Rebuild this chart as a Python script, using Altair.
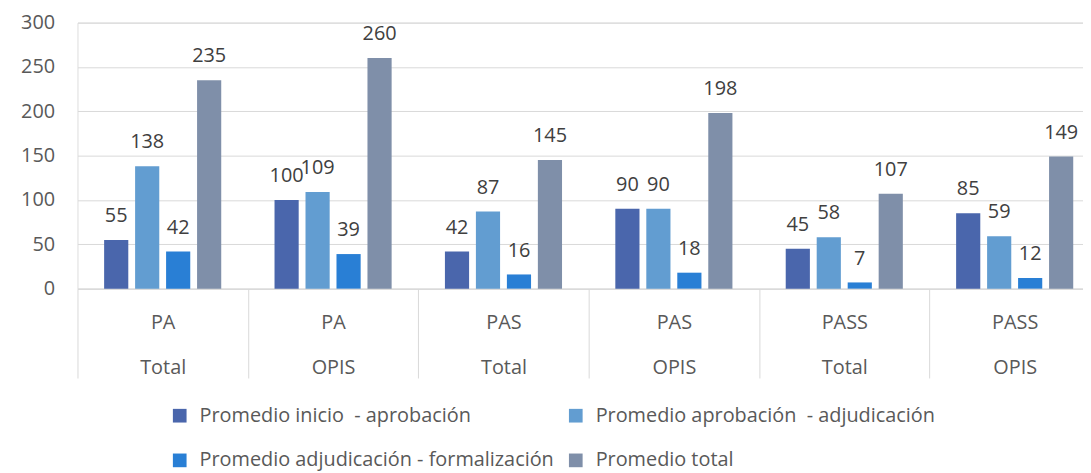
import altair as alt
import pandas as pd

groups = ["PA|Total", "PA|OPIS", "PAS|Total", "PAS|OPIS", "PASS|Total", "PASS|OPIS"]
series = [
    "Promedio inicio\u00a0 - aprobación",
    "Promedio aprobación\u00a0 - adjudicación",
    "Promedio adjudicación - formalización",
    "Promedio total",
]
inicio = [55, 100, 42, 90, 45, 85]
aprobacion = [138, 109, 87, 90, 58, 59]
adjudicacion = [42, 39, 16, 18, 7, 12]
total = [235, 260, 145, 198, 107, 149]
colors = ["#4A66AC", "#629DD1", "#297FD5", "#7F8FA9"]
y_ticks = [0, 50, 100, 150, 200, 250, 300]

rows = []
for vals, s in zip([inicio, aprobacion, adjudicacion, total], series):
    for g, v in zip(groups, vals):
        rows.append({"grupo": g, "serie": s, "valor": v})
df = pd.DataFrame(rows)

FONT = "Open Sans"
FS = 20

x_enc = alt.X(
    "grupo:N",
    sort=groups,
    title=None,
    scale=alt.Scale(range=[0, 1030], paddingInner=0, paddingOuter=0),
    axis=alt.Axis(
        labelExpr="split(datum.label, '|')",
        labelAngle=0,
        labelFontSize=FS,
        labelFont=FONT,
        labelColor="#595959",
        labelLineHeight=45,
        labelPadding=-66,
        labelBaseline="top",
        tickBand="extent",
        tickSize=90,
        tickColor="#D9D9D9",
        tickWidth=1,
        domainColor="#D9D9D9",
        domainWidth=1,
        grid=False,
    ),
)
xoff = alt.XOffset(
    "serie:N",
    sort=series,
    scale=alt.Scale(paddingInner=0.22, paddingOuter=0.86),
)

base = alt.Chart(df)

bars = base.mark_bar().encode(
    x=x_enc,
    xOffset=xoff,
    y=alt.Y(
        "valor:Q",
        title=None,
        scale=alt.Scale(domain=[0, 300], nice=False),
        axis=alt.Axis(
            values=y_ticks,
            domain=False,
            ticks=False,
            labelFontSize=FS,
            labelFont=FONT,
            labelColor="#595959",
            labelPadding=23,
            gridColor="#D9D9D9",
            gridWidth=1,
        ),
    ),
    color=alt.Color(
        "serie:N",
        sort=series,
        scale=alt.Scale(domain=series, range=colors),
        legend=alt.Legend(
            title=None,
            orient="none",
            direction="horizontal",
            legendX=93,
            legendY=386,
            columns=2,
            symbolType="square",
            symbolSize=190,
            symbolStrokeWidth=0,
            labelFontSize=FS,
            labelFont=FONT,
            labelColor="#595959",
            labelLimit=0,
            rowPadding=25,
            columnPadding=12,
            labelOffset=10,
        ),
    ),
)

labels = base.mark_text(
    baseline="middle", dy=-24, fontSize=FS, font=FONT, color="#404040"
).encode(
    x=alt.X("grupo:N", sort=groups),
    xOffset=alt.XOffset("serie:N", sort=series),
    y="valor:Q",
    text="valor:Q",
)

chart = (
    alt.layer(bars, labels)
    .properties(
        width=1013,
        height=268,
        autosize=alt.AutoSizeParams(type="none"),
        padding={"left": 70, "top": 13, "right": 0, "bottom": 185},
    )
    .configure_view(stroke=None)
    .configure(background="white")
)

chart.save("out.html", embed_options={"renderer": "svg", "actions": False})
